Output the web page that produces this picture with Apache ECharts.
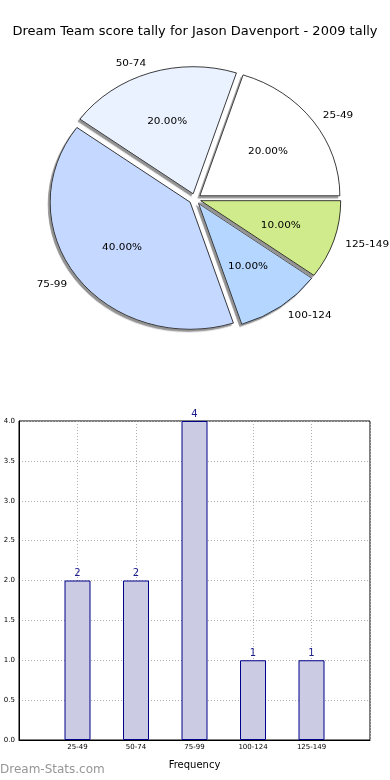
<!DOCTYPE html>
<html>
<head>
<meta charset="utf-8">
<script src="https://cdn.jsdelivr.net/npm/echarts@6/dist/echarts.min.js"></script>
<style>
html,body{margin:0;padding:0;background:#fff;}
#wrap{position:relative;width:390px;height:780px;}
#main{position:absolute;left:0;top:0;width:390px;height:780px;}
#pie{position:absolute;left:0;top:0;width:390px;height:400px;
  transform-origin:195px 199px;transform:scaleY(0.908);}
</style>
</head>
<body>
<div id="wrap"><div id="main"></div><div id="pie"></div></div>
<script>
const titleText = 'Dream Team score tally for Jason Davenport - 2009 tally';
const categories = ['25-49', '50-74', '75-99', '100-124', '125-149'];
const counts = [2, 2, 4, 1, 1];
const sliceColors = ['#ffffff', '#ebf2ff', '#c5d8ff', '#b4d6ff', '#d0eb8b'];

const R = 140;
const pieCenter = [195, 199];
const FONT = 'DejaVu Sans';
const total = counts.reduce((a, b) => a + b, 0);

const pieData = categories.map((c, i) => ({
  name: c, value: counts[i], selected: true,
  itemStyle: { color: sliceColors[i] }
}));
const labelData = categories.map((c, i) => ({
  name: c, value: counts[i], selected: true
}));

const barAxis = [''].concat(categories, ['']);
const barValues = [null].concat(counts, [null]);

const chart = echarts.init(document.getElementById('main'), null, { renderer: 'canvas' });
chart.setOption({
  animation: false,
  backgroundColor: '#fff',
  textStyle: { fontFamily: FONT },
  title: {
    text: titleText, left: 'center', top: 20,
    textStyle: { fontFamily: FONT, fontSize: 13, fontWeight: 'normal', color: '#000' }
  },
  graphic: [{
    type: 'text', left: 0, top: 764,
    style: { text: 'Dream-Stats.com', fontFamily: FONT, fontSize: 12, fill: '#969696' }
  }],
  grid: {
    left: 19, right: 20, top: 421, bottom: 40,
    show: true, borderColor: '#000', borderWidth: 1, backgroundColor: 'transparent'
  },
  xAxis: {
    type: 'category', data: barAxis, boundaryGap: false,
    name: 'Frequency', nameLocation: 'middle', nameGap: 20,
    nameTextStyle: { fontFamily: FONT, fontSize: 10, color: '#000' },
    axisLine: { lineStyle: { color: '#000' } },
    axisTick: { show: false },
    axisLabel: { fontFamily: FONT, fontSize: 7, color: '#000', margin: 4, interval: 0 },
    splitLine: { show: true, lineStyle: { color: '#b0b0b0', type: [1, 2] } }
  },
  yAxis: {
    type: 'value', min: 0, max: 4, interval: 0.5,
    axisLine: { show: true, lineStyle: { color: '#000' } },
    axisTick: { show: false },
    axisLabel: { fontFamily: FONT, fontSize: 7, color: '#000', margin: 4,
      formatter: v => v.toFixed(1) },
    splitLine: { show: true, lineStyle: { color: '#b0b0b0', type: [1, 2] } }
  },
  series: [
    {
      type: 'bar', data: barValues, barWidth: 26,
      itemStyle: { color: '#cbcbe3', borderColor: '#00008b', borderWidth: 1 },
      label: { show: true, position: 'top', distance: 2, fontFamily: FONT, fontSize: 10, color: '#1c1c8c' }
    }
  ]
});

const pie = echarts.init(document.getElementById('pie'), null, { renderer: 'svg' });
pie.setOption({
  animation: false,
  textStyle: { fontFamily: FONT },
  series: [
    {
      type: 'pie', center: pieCenter, radius: [0, R],
      startAngle: 0, clockwise: false,
      selectedMode: 'multiple', selectedOffset: 6,
      avoidLabelOverlap: false, silent: true,
      itemStyle: { borderColor: '#000', borderWidth: 0.8,
        shadowColor: '#939393', shadowOffsetX: -2, shadowOffsetY: 2.5, shadowBlur: 0.5 },
      select: { itemStyle: { borderColor: '#000', borderWidth: 0.8 } },
      label: { show: true, position: 'outside', fontFamily: FONT, fontSize: 10.5, color: '#000',
        distanceToLabelLine: 0, formatter: '{b}' },
      labelLine: { show: false, length: 12, length2: 0 },
      data: pieData
    },
    {
      type: 'pie', center: pieCenter, radius: [0, R * 1.16],
      startAngle: 0, clockwise: false,
      selectedMode: 'multiple', selectedOffset: 6,
      avoidLabelOverlap: false, silent: true,
      itemStyle: { color: 'rgba(0,0,0,0)', borderWidth: 0 },
      select: { itemStyle: { color: 'rgba(0,0,0,0)', borderWidth: 0 } },
      label: { show: true, position: 'inside', fontFamily: FONT, fontSize: 10.5, color: '#000',
        formatter: p => (p.value / total * 100).toFixed(2) + '%' },
      labelLine: { show: false },
      data: labelData
    }
  ]
});
</script>
</body>
</html>
